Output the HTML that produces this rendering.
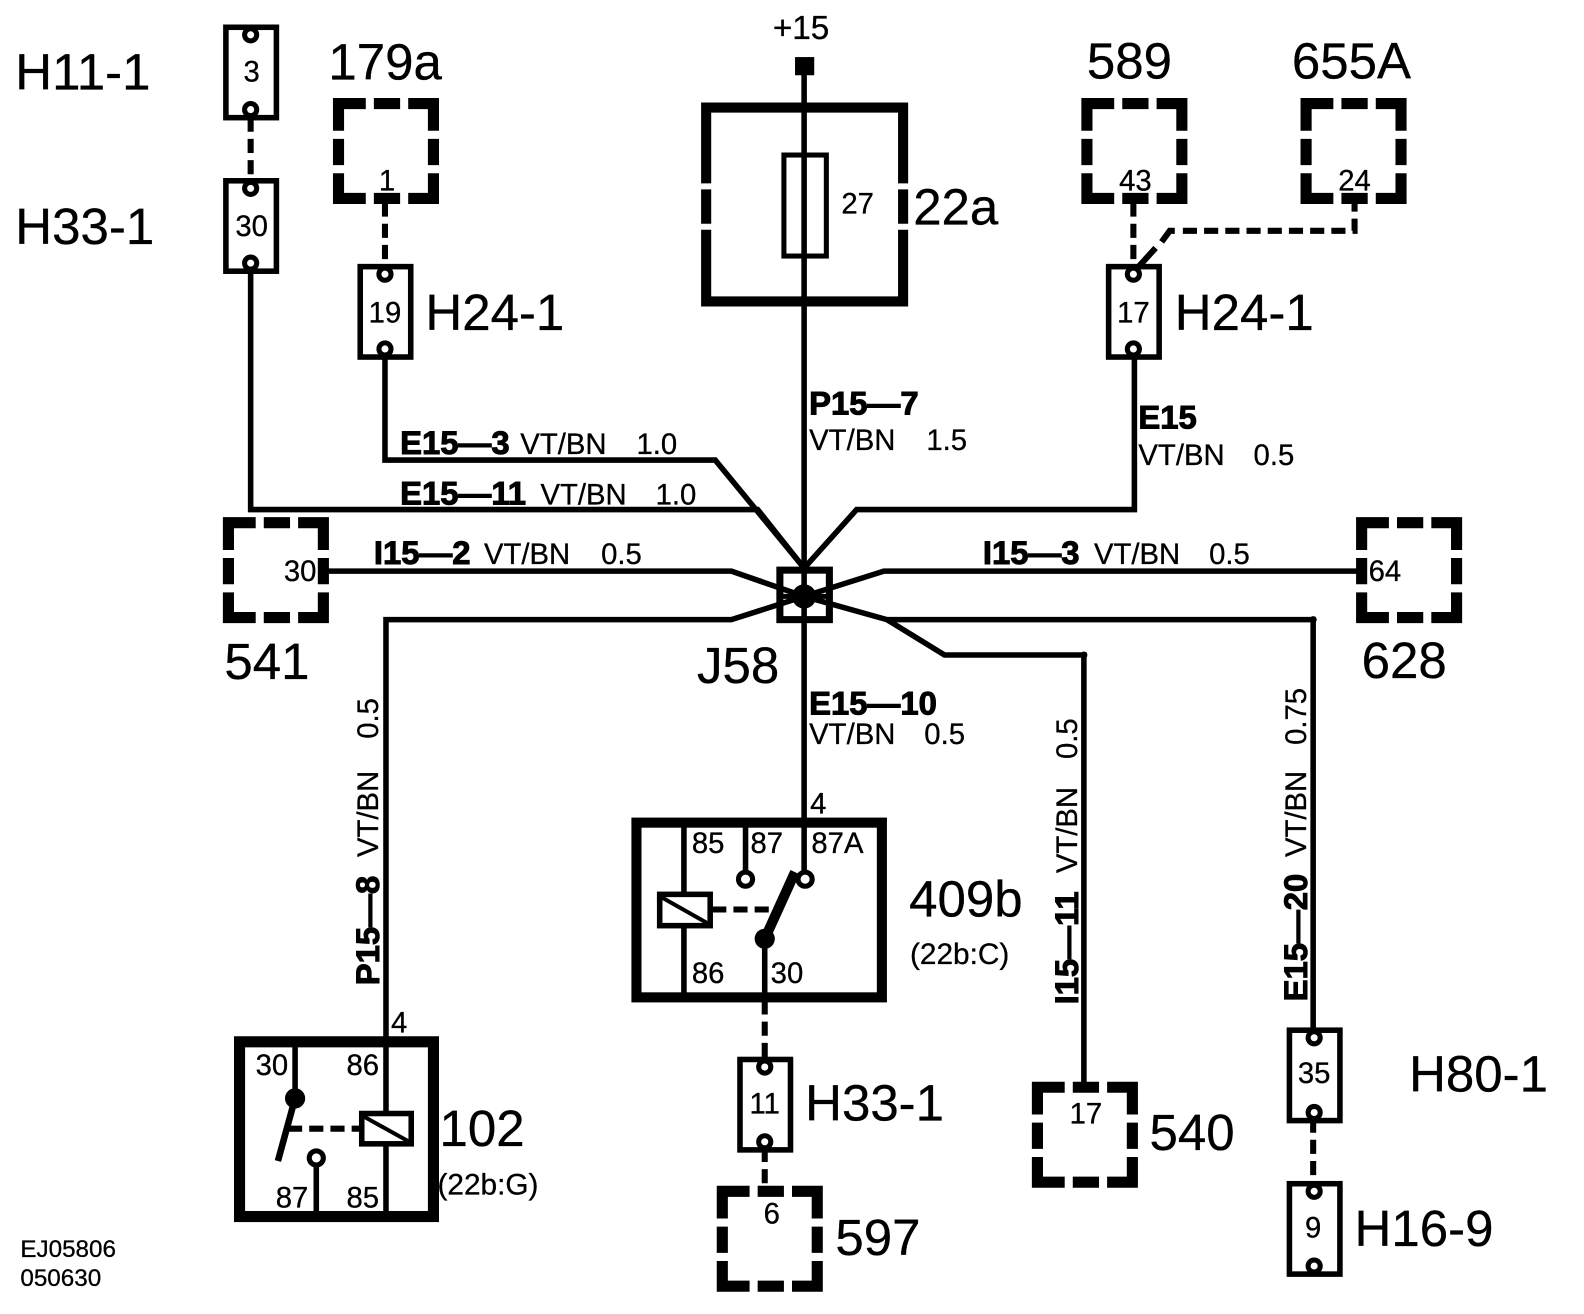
<!DOCTYPE html>
<html><head><meta charset="utf-8"><title>Wiring diagram</title>
<style>
html,body{margin:0;padding:0;background:#fff}
svg{display:block}
text{font-family:"Liberation Sans",sans-serif;fill:#000;stroke:#000;stroke-width:.3px}
.l{font-size:50.5px}
.n{font-size:29px;text-anchor:middle}
.s{font-size:29px}
.b{font-size:32.5px;font-weight:bold;stroke:#000;stroke-width:1px}
.w{fill:none;stroke:#000;stroke-width:5.5}
.d{fill:none;stroke:#000;stroke-width:6;stroke-dasharray:14 7}
.c{fill:#fff;stroke:#000;stroke-width:5}
.box{fill:#fff;stroke:#000;stroke-width:5.5}
</style></head><body>
<svg width="1584" height="1314" viewBox="0 0 1565 1301" xmlns="http://www.w3.org/2000/svg">
<rect width="1565" height="1301" fill="#fff"/>
<defs>
<g id="db" fill="none" stroke="#000" stroke-width="11" stroke-linejoin="miter">
<path d="M4 31V4H31M39 4H65M73 4H98V31M4 39V65M98 39V65M4 73V98H31M39 98H65M73 98H98V73"/>
</g>
<g id="cb">
<rect x="1.5" y="1.5" width="50" height="89.5" class="box"/>
<circle cx="26" cy="9" r="6" class="c"/>
<circle cx="26" cy="83" r="6" class="c"/>
</g>
</defs>
<g transform="translate(-1.5 -0.5)">

<!-- dashed wires -->
<path class="d" d="M248 117V180M381 201V264M1122 201V264M757 991V1049M757 1137V1177M1300 1108V1172"/>
<path class="d" d="M1341 196V229H1170"/>
<path d="M1163 229L1158 229L1150 240" stroke="#000" stroke-width="6" fill="none"/>
<path d="M1144 246L1124 268" stroke="#000" stroke-width="6" fill="none"/>

<!-- solid wires -->
<path class="w" d="M796 66V812"/>
<path class="w" d="M248 262V505H750L796 563"/>
<path class="w" d="M381 344V456H708L796 563"/>
<path class="w" d="M1123 344V505H848L796 563"/>
<path class="w" d="M316 566H724L796 591"/>
<path class="w" d="M382 1030V614H724L796 591"/>
<path class="w" d="M1350 566H875L796 591"/>
<path class="w" d="M796 591L878 614H1300V1020"/>
<path class="w" d="M878 614L935 649H1073V1076"/>
<circle cx="1073" cy="649" r="3.5"/><circle cx="1300" cy="614" r="3.5"/>

<!-- +15 -->
<rect x="787" y="57" width="19" height="18"/>

<!-- fuse 22a -->
<path fill="none" stroke="#000" stroke-width="10" d="M699 182V107H894V182M699 188V222M894 188V222M699 228V299H894V228"/>
<rect x="776" y="154" width="42" height="100" fill="none" stroke="#000" stroke-width="5"/>

<!-- J58 -->
<rect x="772" y="565" width="49" height="49" fill="none" stroke="#000" stroke-width="7"/>
<path d="M772 591H821" stroke="#000" stroke-width="5"/>
<circle cx="796" cy="591" r="12"/>

<!-- dashed boxes -->
<use href="#db" x="331" y="99"/>
<use href="#db" x="1072" y="99"/>
<use href="#db" x="1289" y="99"/>
<use href="#db" x="222" y="514"/>
<use href="#db" x="1344" y="514"/>
<use href="#db" x="1023" y="1073"/>
<use href="#db" x="711" y="1176"/>

<!-- connector blocks -->
<use href="#cb" x="222" y="26"/>
<use href="#cb" x="222" y="178"/>
<use href="#cb" x="355" y="263"/>
<use href="#cb" x="1096" y="263"/>
<use href="#cb" x="731" y="1048"/>
<use href="#cb" x="1275" y="1019"/>
<use href="#cb" x="1275" y="1171"/>

<!-- relay 409b -->
<rect x="630" y="815" width="243" height="173" fill="none" stroke="#000" stroke-width="10"/>
<path class="w" d="M677 815V988M738 815V868M796 812V868M757 930V988"/>
<rect x="653" y="886" width="50" height="31" fill="#fff" stroke="#000" stroke-width="5.5"/>
<path d="M655 889L701 915" stroke="#000" stroke-width="4"/>
<path d="M705 901H766" class="d" stroke-dasharray="13 6"/>
<path d="M757 930L787 864" stroke="#000" stroke-width="10"/>
<circle cx="757" cy="930" r="10"/>
<circle cx="738" cy="871" r="7" class="c"/>
<circle cx="797" cy="871" r="7" class="c"/>

<!-- relay 102 -->
<rect x="237" y="1032" width="192" height="173" fill="none" stroke="#000" stroke-width="11"/>
<path class="w" d="M292 1032V1088M382 1030V1205M313 1148V1205"/>
<rect x="358" y="1103" width="49" height="30" fill="#fff" stroke="#000" stroke-width="5.5"/>
<path d="M360 1106L405 1131" stroke="#000" stroke-width="4"/>
<path d="M285 1118H356" class="d" stroke-dasharray="13 6"/>
<path d="M292 1088L275 1150" stroke="#000" stroke-width="6.5"/>
<circle cx="292" cy="1088" r="10"/>
<circle cx="313" cy="1147" r="7" class="c"/>

<!-- big labels -->
<text class="l" x="15" y="89">H11-1</text>
<text class="l" x="15" y="242">H33-1</text>
<text class="l" x="325" y="79">179a</text>
<text class="l" x="421" y="327">H24-1</text>
<text class="l" x="904" y="223">22a</text>
<text class="l" x="1076" y="78">589</text>
<text class="l" x="1279" y="78">655A</text>
<text class="l" x="1163" y="327">H24-1</text>
<text class="l" x="222" y="673">541</text>
<text class="l" x="1348" y="672">628</text>
<text class="l" x="690" y="677">J58</text>
<text class="l" x="900" y="908">409b</text>
<text class="l" x="435" y="1135">102</text>
<text class="l" x="797" y="1110">H33-1</text>
<text class="l" x="1138" y="1139">540</text>
<text class="l" x="1395" y="1081">H80-1</text>
<text class="l" x="827" y="1243">597</text>
<text class="l" x="1341" y="1234">H16-9</text>

<!-- small numbers -->
<text class="n" x="249" y="81">3</text>
<text class="n" x="249" y="234">30</text>
<text class="n" x="381" y="320">19</text>
<text class="n" x="1122" y="320">17</text>
<text class="n" x="383" y="189">1</text>
<text class="n" x="1124" y="189">43</text>
<text class="n" x="1341" y="189">24</text>
<text class="n" x="849" y="212">27</text>
<text class="n" x="297" y="576">30</text>
<text class="n" x="1371" y="576">64</text>
<text class="n" x="757" y="1103">11</text>
<text class="n" x="1301" y="1073">35</text>
<text class="n" x="1300" y="1226">9</text>
<text class="n" x="1075" y="1113">17</text>
<text class="n" x="764" y="1212">6</text>
<text class="n" x="793" y="39" style="font-size:33px">+15</text>
<text class="n" x="810" y="806">4</text>
<text class="n" x="395" y="1023">4</text>
<text class="n" x="701" y="845">85</text>
<text class="n" x="759" y="845">87</text>
<text class="n" x="829" y="845">87A</text>
<text class="n" x="701" y="974">86</text>
<text class="n" x="779" y="974">30</text>
<text class="n" x="269" y="1065">30</text>
<text class="n" x="359" y="1065">86</text>
<text class="n" x="289" y="1196">87</text>
<text class="n" x="359" y="1196">85</text>
<text class="n" x="483" y="1183" style="font-size:29.5px">(22b:G)</text>
<text class="n" x="950" y="955" style="font-size:29.5px">(22b:C)</text>
<text x="20" y="1245" style="font-size:24px">EJ05806</text>
<text x="20" y="1274" style="font-size:24px">050630</text>

<!-- wire labels -->
<text class="b" x="396" y="450">E15—3</text><text class="s" x="515" y="450">VT/BN</text><text class="s" x="630" y="450">1.0</text>
<text class="b" x="396" y="500">E15—11</text><text class="s" x="535" y="500">VT/BN</text><text class="s" x="649" y="500">1.0</text>
<text class="b" x="370" y="559">I15—2</text><text class="s" x="479" y="559">VT/BN</text><text class="s" x="595" y="559">0.5</text>
<text class="b" x="973" y="559">I15—3</text><text class="s" x="1083" y="559">VT/BN</text><text class="s" x="1197" y="559">0.5</text>
<text class="b" x="801" y="411">P15—7</text><text class="s" x="801" y="446">VT/BN</text><text class="s" x="917" y="446">1.5</text>
<text class="b" x="1127" y="425">E15</text><text class="s" x="1127" y="461">VT/BN</text><text class="s" x="1241" y="461">0.5</text>
<text class="b" x="801" y="708">E15—10</text><text class="s" x="801" y="737">VT/BN</text><text class="s" x="915" y="737">0.5</text>

<g transform="translate(375 976) rotate(-90)"><text class="b" x="0" y="0">P15—8</text><text class="s" x="127" y="-1">VT/BN</text><text class="s" x="244" y="-1">0.5</text></g>
<g transform="translate(1067 995) rotate(-90)"><text class="b" x="0" y="0">I15—11</text><text class="s" x="130" y="-1">VT/BN</text><text class="s" x="243" y="-1">0.5</text></g>
<g transform="translate(1294 992) rotate(-90)"><text class="b" x="0" y="0">E15—20</text><text class="s" x="143" y="-1">VT/BN</text><text class="s" x="254" y="-1">0.75</text></g>
</g>
</svg>
</body></html>
